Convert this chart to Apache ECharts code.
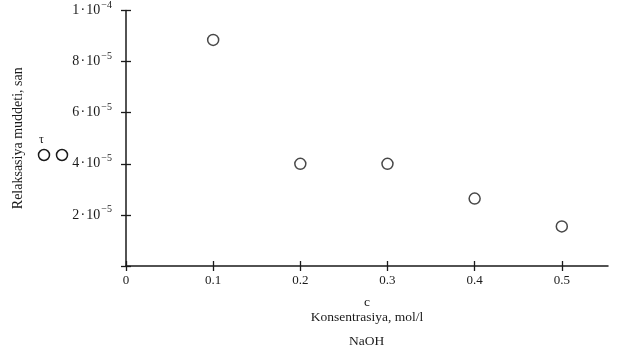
<!DOCTYPE html>
<html>
<head>
<meta charset="utf-8">
<script src="https://cdn.jsdelivr.net/npm/echarts@6/dist/echarts.min.js"></script>
<style>
  html, body { margin: 0; padding: 0; background: #fff; }
  #chart { width: 643px; height: 349px; }
</style>
</head>
<body>
<div id="chart"></div>
<script>
// concentration of NaOH, mol/l
const concentration = [0.1, 0.2, 0.3, 0.4, 0.5]
// relaxation time, s
const relaxTime = [8.85e-5, 4.0e-5, 4.0e-5, 2.64e-5, 1.55e-5]

const xTicks = [0, 0.1, 0.2, 0.3, 0.4, 0.5]
const xTickLabels = ['0', '0.1', '0.2', '0.3', '0.4', '0.5']
const yTicks = [2e-5, 4e-5, 6e-5, 8e-5, 1e-4]
const yTickLabels = [['2', '−5'], ['4', '−5'], ['6', '−5'], ['8', '−5'], ['1', '−4']]

const serif = '"Liberation Serif", "DejaVu Serif", serif'
const ink = '#1a1a1a'

const chart = echarts.init(document.getElementById('chart'))

const yLabelFmt = (v) => {
  const i = yTicks.findIndex(t => Math.abs(t - v) < 1e-9)
  if (i < 0) return ''
  return yTickLabels[i][0] + '\u200a·\u200a10{sup|' + yTickLabels[i][1] + '}'
}

const option = {
  animation: false,
  backgroundColor: '#fff',
  grid: { left: 126, right: 35, top: 8, bottom: 83 },
  xAxis: [
    {
      type: 'value',
      min: 0,
      max: 0.553,
      interval: 0.1,
      splitLine: { show: false },
      axisLine: { lineStyle: { color: ink, width: 1.5 } },
      axisTick: { length: 5, customValues: xTicks, lineStyle: { color: ink, width: 1.3 } },
      axisLabel: {
        customValues: xTicks,
        formatter: (v) => {
          const i = xTicks.findIndex(t => Math.abs(t - v) < 1e-9)
          return i < 0 ? '' : xTickLabels[i]
        },
        fontFamily: serif, fontSize: 13, color: ink, margin: 8
      },
      name: 'c\nKonsentrasiya, mol/l',
      nameLocation: 'middle',
      nameGap: 29,
      nameTextStyle: { fontFamily: serif, fontSize: 13.5, color: ink, lineHeight: 15 }
    },
    {
      type: 'value',
      min: 0,
      max: 0.553,
      position: 'bottom',
      splitLine: { show: false },
      axisLine: { show: false },
      axisTick: { inside: true, length: 5, customValues: xTicks, lineStyle: { color: ink, width: 1.3 } },
      axisLabel: { show: false }
    }
  ],
  yAxis: [
    {
      type: 'value',
      min: 0,
      max: 1e-4,
      interval: 2e-5,
      splitLine: { show: false },
      axisLine: { lineStyle: { color: ink, width: 1.5 } },
      axisTick: { length: 5, lineStyle: { color: ink, width: 1.3 } },
      axisLabel: {
        formatter: yLabelFmt,
        fontFamily: serif, fontSize: 14, color: ink, margin: 14,
        rich: {
          sup: { fontFamily: serif, fontSize: 10, color: ink, verticalAlign: 'bottom', padding: [0, 0, 11, 1] }
        }
      },
      name: 'Relaksasiya muddeti, san',
      nameLocation: 'middle',
      nameGap: 101,
      nameTextStyle: { fontFamily: serif, fontSize: 14, color: ink }
    },
    {
      type: 'value',
      min: 0,
      max: 1e-4,
      interval: 2e-5,
      position: 'left',
      splitLine: { show: false },
      axisLine: { show: false },
      axisTick: { inside: true, length: 5, lineStyle: { color: ink, width: 1.3 } },
      axisLabel: { show: false }
    }
  ],
  title: {
    text: 'NaOH',
    left: 344,
    top: 329,
    textStyle: { fontFamily: serif, fontSize: 13.5, fontWeight: 'normal', color: ink }
  },
  graphic: [
    { type: 'text', left: 39, top: 134, style: { text: 'τ', font: '12px ' + serif, fill: ink } },
    { type: 'circle', shape: { cx: 44, cy: 155, r: 5.5 }, style: { fill: '#fff', stroke: ink, lineWidth: 1.5 } },
    { type: 'circle', shape: { cx: 62, cy: 155, r: 5.5 }, style: { fill: '#fff', stroke: ink, lineWidth: 1.5 } }
  ],
  series: [
    {
      type: 'scatter',
      symbol: 'circle',
      symbolSize: 11,
      data: concentration.map((c, i) => [c, relaxTime[i]]),
      itemStyle: { color: '#fff', borderColor: ink, borderWidth: 1.5 }
    }
  ]
}

chart.setOption(option)
</script>
</body>
</html>
